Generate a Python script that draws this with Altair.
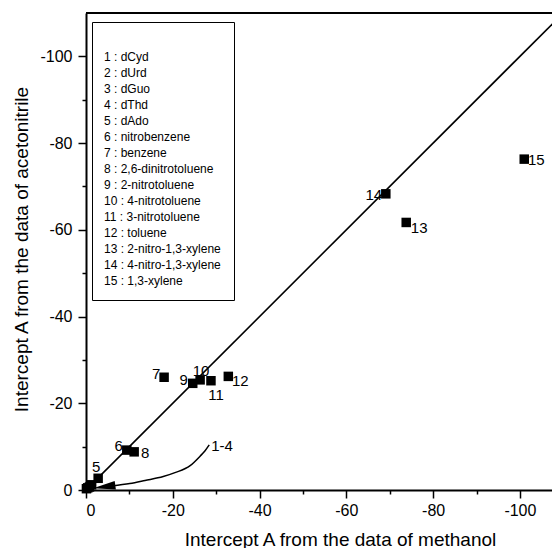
import altair as alt
import pandas as pd

# ---- data ----
IDS = list(range(1, 16))
NAMES = ["dCyd", "dUrd", "dGuo", "dThd", "dAdo", "nitrobenzene", "benzene",
         "2,6-dinitrotoluene", "2-nitrotoluene", "4-nitrotoluene", "3-nitrotoluene",
         "toluene", "2-nitro-1,3-xylene", "4-nitro-1,3-xylene", "1,3-xylene"]
METHANOL = [-0.1, -0.4, -1.3, -0.8, -2.8, -9.4, -18.0, -11.1, -24.6, -26.3,
            -28.8, -32.8, -73.8, -69.1, -101.0]
ACETONITRILE = [-0.3, -0.5, -1.2, -0.7, -2.7, -9.2, -26.0, -8.8, -24.6, -25.4,
                -25.2, -26.2, -61.7, -68.3, -76.3]

# which points carry a number label, and the pixel offset of each label
LABELLED = [5, 6, 7, 8, 9, 10, 11, 12, 13, 14, 15]
LABEL_DX = [-2, -8, -8, 11, -9, 1, 5, 12, 13, -12, 12]
LABEL_DY = [-11, -4, -3, 1, -3, -9, 14, 5, 6, 1, 1]

# y = x reference line
DIAG = [0, -110]

# curved annotation arrow "1-4" (data units)
ARROW_X = [-28.4, -27.4, -26.3, -24.0, -20.5, -17.8, -13.6, -10.1, -6.0]
ARROW_Y = [-10.4, -9.0, -7.8, -5.6, -4.0, -3.1, -2.2, -1.5, -0.95]
ARROW_HEAD = (-4.2, -0.75)
ARROW_TEXT = "1-4"

X_TICKS = [0, -10, -20, -30, -40, -50, -60, -70, -80, -90, -100]
Y_TICKS = [0, -10, -20, -30, -40, -50, -60, -70, -80, -90, -100]
X_DOMAIN = [0, -107.4]
Y_DOMAIN = [0, -110]

FONT = "Liberation Sans"

ENTRIES = [f"{i} : {n}" for i, n in zip(IDS, NAMES)]
df = pd.DataFrame({"id": IDS, "entry": ENTRIES,
                   "methanol": METHANOL, "acetonitrile": ACETONITRILE})

label_expr = ("datum.value % 20 != 0 ? '' : "
              "(datum.value == 0 ? '0' : '-' + abs(datum.value))")
tick_size = {"condition": {"test": "datum.value % 20 != 0", "value": 4}, "value": 8}

xscale = alt.Scale(domain=X_DOMAIN, nice=False, zero=False)
yscale = alt.Scale(domain=Y_DOMAIN, nice=False, zero=False)

xaxis = alt.Axis(values=X_TICKS, labelExpr=label_expr, tickSize=tick_size,
                 labelPadding=4, title="Intercept A from the data of methanol",
                 titleX=254, titleY=55, titleAlign="center",
                 titleBaseline="alphabetic", titleAngle=0)
yaxis = alt.Axis(values=Y_TICKS, labelExpr=label_expr, tickSize=tick_size,
                 labelPadding=6, title="Intercept A from the data of acetonitrile",
                 titleX=-59, titleY=236, titleAlign="center",
                 titleBaseline="alphabetic", titleAngle=270)

X = alt.X("methanol:Q", scale=xscale, axis=xaxis)
Y = alt.Y("acetonitrile:Q", scale=yscale, axis=yaxis)

points = alt.Chart(df).mark_point(filled=True, color="black", opacity=1, size=90).encode(
    x=X, y=Y,
    shape=alt.Shape("entry:N",
                    scale=alt.Scale(domain=ENTRIES, range=["square"] * len(ENTRIES)),
                    legend=alt.Legend(orient="none", legendX=6, legendY=9,
                                      title=" ", titleFontSize=13, titlePadding=3,
                                      padding=13, strokeColor="black",
                                      labelFont=FONT, labelFontSize=12,
                                      labelColor="black",
                                      labelOffset={"expr": "-13"},
                                      labelAlign="left",
                                      symbolSize=1, symbolOpacity=0,
                                      symbolStrokeWidth=0, rowPadding=4,
                                      labelLimit=300)),
)

diag = alt.Chart(pd.DataFrame({"methanol": DIAG, "acetonitrile": DIAG})).mark_line(
    color="black", strokeWidth=1.6, clip=True).encode(x=X, y=Y)

top_rule = alt.Chart(pd.DataFrame({"a": [0]})).mark_rule(
    color="black", strokeWidth=2).encode(
    x=alt.datum(X_DOMAIN[0]), x2=alt.datum(X_DOMAIN[1]), y=alt.datum(Y_DOMAIN[1]))

labels = []
for pid, dx, dy in zip(LABELLED, LABEL_DX, LABEL_DY):
    sub = df[df["id"] == pid]
    labels.append(
        alt.Chart(sub).mark_text(font=FONT, fontSize=15, color="black",
                                 align="center", baseline="middle", dx=dx, dy=dy)
        .encode(x=X, y=Y, text=alt.Text("id:N"))
    )

arrow_df = pd.DataFrame({"methanol": ARROW_X, "acetonitrile": ARROW_Y,
                         "order": list(range(len(ARROW_X)))})
arrow = alt.Chart(arrow_df).mark_line(color="black", strokeWidth=1.5,
                                      interpolate="monotone").encode(
    x=X, y=Y, order="order:O")
head = alt.Chart(pd.DataFrame({"methanol": [ARROW_HEAD[0]],
                               "acetonitrile": [ARROW_HEAD[1]]})).mark_point(
    shape="M-1,0L1,-0.38L1,0.38Z", filled=True, color="black", opacity=1,
    size=500, angle=352).encode(x=X, y=Y)
arrow_label = alt.Chart(pd.DataFrame({"methanol": [ARROW_X[0]],
                                      "acetonitrile": [ARROW_Y[0]],
                                      "t": [ARROW_TEXT]})).mark_text(
    font=FONT, fontSize=15, color="black", align="left", baseline="middle",
    dx=2, dy=1).encode(x=X, y=Y, text="t:N")

chart = alt.layer(diag, top_rule, arrow, head, arrow_label, points, *labels).properties(
    width=466, height=477,
    autosize=alt.AutoSizeParams(type="none"),
    padding={"left": 78, "top": 5, "right": 0, "bottom": 58},
).configure_view(stroke=None).configure_axis(
    grid=False, domainColor="black", domainWidth=2, tickColor="black",
    tickWidth=1.5, labelFont=FONT, labelFontSize=16, labelColor="black",
    titleFont=FONT, titleFontSize=19, titleFontWeight="normal", titleColor="black",
)

chart.save("out.html", embed_options={"renderer": "svg", "actions": False})
